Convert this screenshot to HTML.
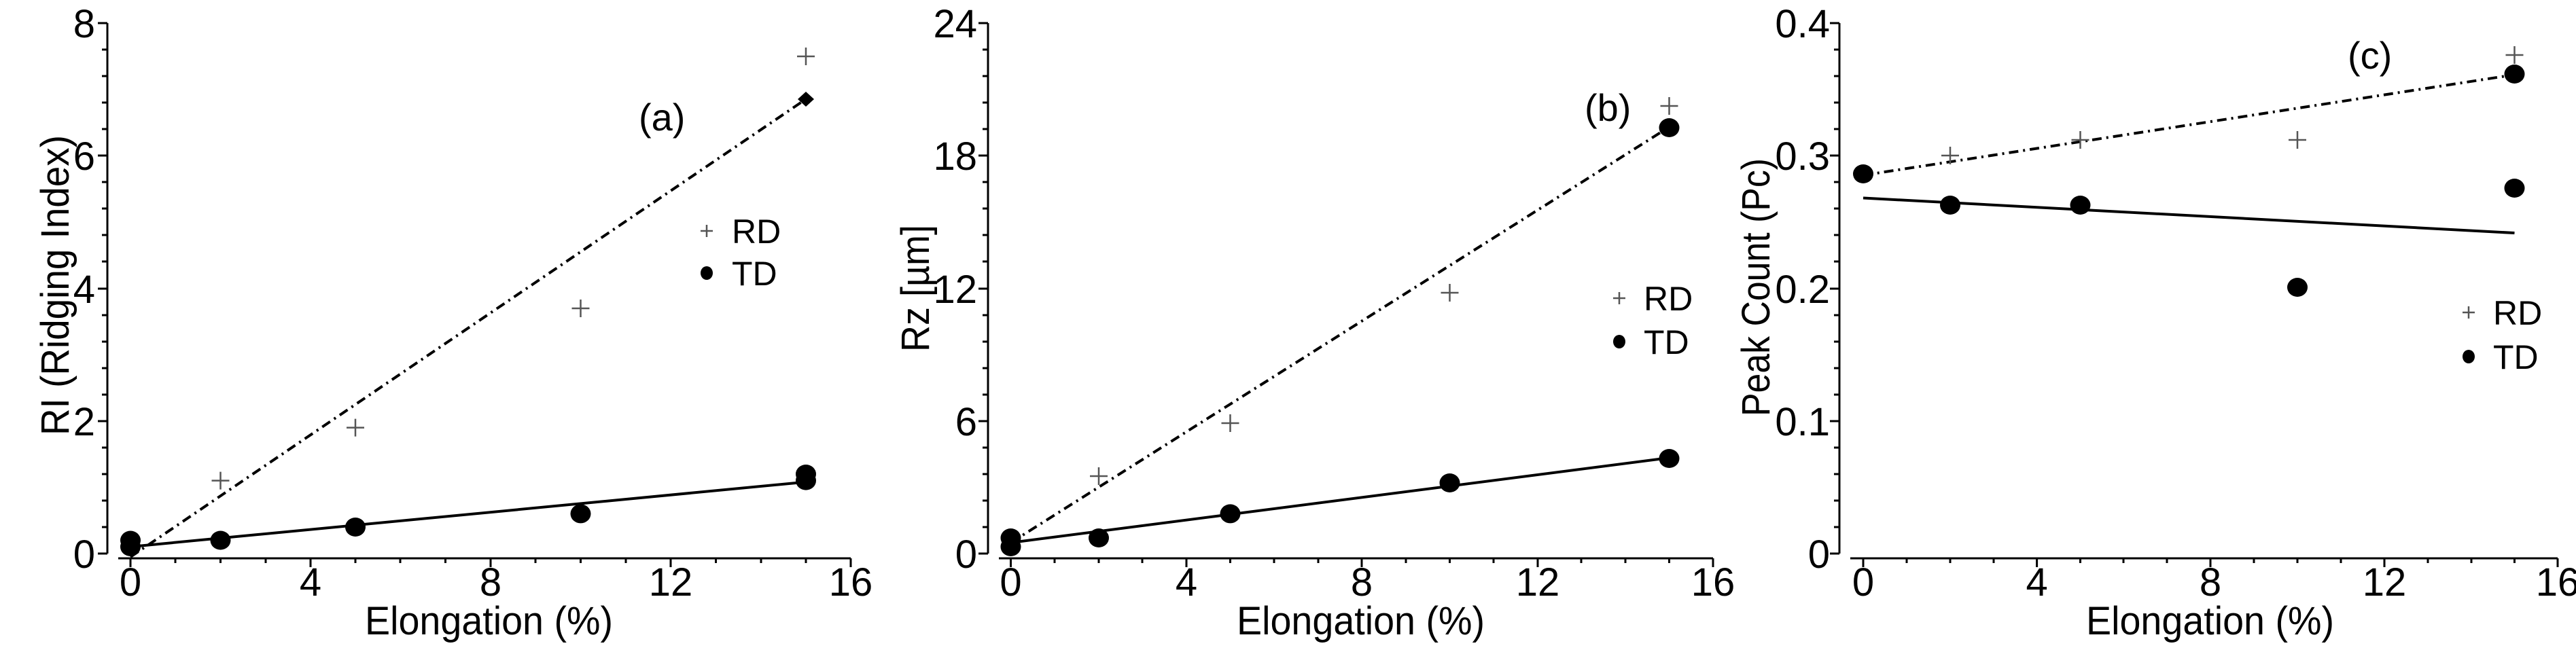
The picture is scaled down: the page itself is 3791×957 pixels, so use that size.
<!DOCTYPE html>
<html><head><meta charset="utf-8"><style>html,body{margin:0;padding:0;background:#fff}svg{display:block}text{font-family:"Liberation Sans",sans-serif;fill:#000}</style></head><body>
<svg width="3791" height="957" viewBox="0 0 3791 957" xmlns="http://www.w3.org/2000/svg">
<defs>
<g id="p"><path d="M-13 0H13M0 -13V13" stroke="#555" stroke-width="2.5"/></g>
<g id="pl"><path d="M-9 0H9M0 -9V9" stroke="#555" stroke-width="2.5"/></g>
<g id="mt"><path d="M0 0h-8M0 39h-8M0 78h-8M0 117h-8M0 156h-8" stroke="#000" stroke-width="3"/></g>
</defs>
<g stroke="#000" stroke-width="3" fill="none">
<path d="M158 34V815M174 822H1252"/>
<path d="M192 822v13M457 822v13M722 822v13M987 822v13M1252 822v13" />
<path d="M258 822v7M324.5 822v7M391 822v7M523 822v7M589 822v7M655.5 822v7M788 822v7M854.5 822v7M921 822v7M1053.5 822v7M1120 822v7M1186 822v7"/>
<path d="M158 34h-14M158 229h-14M158 425h-14M158 620h-14M158 815h-14"/>
<path d="M1454 34V815M1470 822H2521"/>
<path d="M1487.5 822v13M1746 822v13M2004 822v13M2263 822v13M2521 822v13"/>
<path d="M1552 822v7M1617 822v7M1681 822v7M1810.5 822v7M1875 822v7M1940 822v7M2069 822v7M2133.5 822v7M2198 822v7M2327 822v7M2392 822v7M2456.5 822v7"/>
<path d="M1454 34h-14M1454 229h-14M1454 425h-14M1454 620h-14M1454 815h-14"/>
<path d="M2707 34V815M2723 822H3764"/>
<path d="M2742 822v13M2997.6 822v13M3253 822v13M3509 822v13M3764 822v13"/>
<path d="M2806 822v7M2870 822v7M2934 822v7M3061.5 822v7M3125 822v7M3189 822v7M3317 822v7M3381 822v7M3445 822v7M3573 822v7M3637 822v7M3700.5 822v7"/>
<path d="M2707 34h-14M2707 229h-14M2707 425h-14M2707 620h-14M2707 815h-14"/>
</g>
<use href="#mt" x="158" y="34"/><use href="#mt" x="158" y="229"/><use href="#mt" x="158" y="425"/><use href="#mt" x="158" y="620"/>
<use href="#mt" x="1454" y="34"/><use href="#mt" x="1454" y="229"/><use href="#mt" x="1454" y="425"/><use href="#mt" x="1454" y="620"/>
<use href="#mt" x="2707" y="34"/><use href="#mt" x="2707" y="229"/><use href="#mt" x="2707" y="425"/><use href="#mt" x="2707" y="620"/>
<g stroke="#000" stroke-width="4" fill="none">
<path d="M192 820L1186 146" stroke-dasharray="14 7 3 7"/>
<path d="M192 805L1186 709.6"/>
<path d="M1487.5 799L2456.5 187" stroke-dasharray="14 7 3 7"/>
<path d="M1487.5 799L2456.5 674"/>
<path d="M2742 258L3700.5 110" stroke-dasharray="14 7 3 7"/>
<path d="M2742 291.5L3700.5 343"/>
</g>
<use href="#p" x="324.5" y="707.6"/><use href="#p" x="523" y="629.6"/><use href="#p" x="854.5" y="454"/><use href="#p" x="1186" y="83"/>
<use href="#p" x="1617" y="701"/><use href="#p" x="1810.5" y="623"/><use href="#p" x="2133.5" y="431"/><use href="#p" x="2456.5" y="156"/>
<use href="#p" x="2870" y="229"/><use href="#p" x="3061.5" y="206"/><use href="#p" x="3381" y="206"/><use href="#p" x="3700.5" y="81"/>
<use href="#pl" x="1040" y="340"/><use href="#pl" x="2383" y="439"/><use href="#pl" x="3633" y="460"/>
<g fill="#000">
<ellipse cx="192" cy="795.5" rx="15" ry="14"/><ellipse cx="192" cy="805" rx="15" ry="14"/><ellipse cx="324.5" cy="795.5" rx="15" ry="14"/><ellipse cx="523" cy="776" rx="15" ry="14"/><ellipse cx="854.5" cy="756.4" rx="15" ry="14"/><ellipse cx="1186" cy="698" rx="15" ry="14"/><ellipse cx="1186" cy="707.6" rx="15" ry="14"/>
<path d="M1186 135L1198 146L1186 157L1174 146Z"/>
<ellipse cx="1487.5" cy="805" rx="15" ry="14"/><ellipse cx="1487.5" cy="792" rx="15" ry="14"/><ellipse cx="1617" cy="792" rx="15" ry="14"/><ellipse cx="1810.5" cy="756.4" rx="15" ry="14"/><ellipse cx="2133.5" cy="711" rx="15" ry="14"/><ellipse cx="2456.5" cy="675" rx="15" ry="14"/><ellipse cx="2456.5" cy="188" rx="15" ry="14"/>
<ellipse cx="2742" cy="256" rx="15" ry="14"/><ellipse cx="2870" cy="302" rx="15" ry="14"/><ellipse cx="3061.5" cy="302" rx="15" ry="14"/><ellipse cx="3381" cy="423" rx="15" ry="14"/><ellipse cx="3700.5" cy="277" rx="15" ry="14"/><ellipse cx="3700.5" cy="109" rx="15" ry="14"/>
<ellipse cx="1040" cy="402" rx="9" ry="10"/><ellipse cx="2383" cy="503" rx="9" ry="10"/><ellipse cx="3633" cy="525" rx="9" ry="10"/>
</g>
<g font-size="58">
<g text-anchor="end">
<text x="140" y="55">8</text><text x="140" y="250">6</text><text x="140" y="446">4</text><text x="140" y="641">2</text><text x="140" y="836">0</text>
<text x="1438" y="55">24</text><text x="1438" y="250">18</text><text x="1438" y="446">12</text><text x="1438" y="641">6</text><text x="1438" y="836">0</text>
<text x="2693" y="55">0.4</text><text x="2693" y="250">0.3</text><text x="2693" y="446">0.2</text><text x="2693" y="641">0.1</text><text x="2693" y="836">0</text>
</g>
<g text-anchor="middle">
<text x="192" y="877">0</text><text x="457" y="877">4</text><text x="722" y="877">8</text><text x="987" y="877">12</text><text x="1252" y="877">16</text>
<text x="1487.5" y="877">0</text><text x="1746" y="877">4</text><text x="2004" y="877">8</text><text x="2263" y="877">12</text><text x="2521" y="877">16</text>
<text x="2742" y="877">0</text><text x="2997.6" y="877">4</text><text x="3253" y="877">8</text><text x="3509" y="877">12</text><text x="3764" y="877">16</text>
</g>
</g>
<g font-size="58">
<text x="537" y="934" textLength="365" lengthAdjust="spacingAndGlyphs">Elongation (%)</text>
<text x="1820" y="934" textLength="365" lengthAdjust="spacingAndGlyphs">Elongation (%)</text>
<text x="3070" y="934" textLength="365" lengthAdjust="spacingAndGlyphs">Elongation (%)</text>
<text transform="translate(101 641) rotate(-90)" textLength="442" lengthAdjust="spacingAndGlyphs">RI (Ridging Index)</text>
<text transform="translate(1367 518) rotate(-90)" textLength="187" lengthAdjust="spacingAndGlyphs">Rz [µm]</text>
<text transform="translate(2604 613) rotate(-90)" textLength="380" lengthAdjust="spacingAndGlyphs">Peak Count (Pc)</text>
</g>
<g font-size="50">
<text x="1077" y="358">RD</text><text x="1077" y="420">TD</text>
<text x="2419" y="457">RD</text><text x="2419" y="521">TD</text>
<text x="3669" y="478">RD</text><text x="3669" y="543">TD</text>
</g>
<g font-size="56">
<text x="940" y="192">(a)</text>
<text x="2332" y="178">(b)</text>
<text x="3455" y="101">(c)</text>
</g>
</svg>
</body></html>
